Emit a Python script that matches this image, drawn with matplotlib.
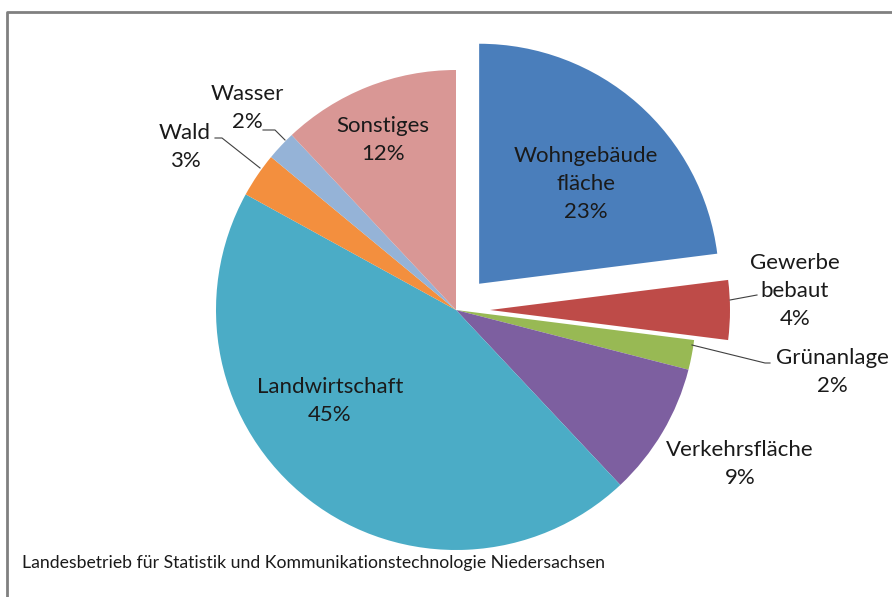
import matplotlib
matplotlib.use("Agg")
import matplotlib.pyplot as plt

categories = ["Wohngebäude\nfläche", "Gewerbe\nbebaut", "Grünanlage", "Verkehrsfläche",
              "Landwirtschaft", "Wald", "Wasser", "Sonstiges"]
values = [23, 4, 2, 9, 45, 3, 2, 12]
source = "Landesbetrieb für Statistik und Kommunikationstechnologie Niedersachsen"

colors = ["#4A7EBB", "#BE4B48", "#98B954", "#7D5FA0", "#4BACC6", "#F38F3E", "#95B3D7", "#D99795"]
explode_px = [35, 34, 0, 0, 0, 0, 0, 0]

W, H = 892, 597
fig = plt.figure(figsize=(W / 100, H / 100), dpi=100)
ax = fig.add_axes([0, 0, 1, 1])

def py(y):
    return H - y

cx, cy, r = 456, py(310), 240
wedges, _ = ax.pie(values, colors=colors, startangle=90, counterclock=False,
                   explode=explode_px, radius=r, center=(cx, cy), frame=True,
                   wedgeprops=dict(linewidth=0))
ax.set_xlim(0, W)
ax.set_ylim(0, H)
ax.set_aspect("equal")
ax.axis("off")

font = dict(family=["Lato", "DejaVu Sans"], color="#1a1a1a", fontsize=16)
pcts = [f"{v}%" for v in values]
# label positions (pixel coords, center of text block)
label_pos = [(586, 184), (795, 291), (832, 372), (740, 464),
             (330, 401), (185, 147), (247, 108), (383, 140)]
for lab, pct, (x, y) in zip(categories, pcts, label_pos):
    ax.text(x, py(y), lab + "\n" + pct, ha="center", va="center",
            linespacing=1.5, **font)

# leader lines
lc = dict(color="#404040", lw=0.8)
ax.plot([730, 757], [py(300), py(295)], **lc)
ax.plot([692, 765, 770], [py(345), py(363), py(363)], **lc)
ax.plot([285, 275, 263], [py(140), py(130), py(130)], **lc)
ax.plot([260, 222, 215], [py(168), py(138), py(138)], **lc)

ax.text(22, py(563), source, ha="left", va="center",
        family=["Lato", "DejaVu Sans"], fontsize=12.7, color="#1a1a1a")

# chart border
ax.plot([6.5, 6.5, W], [0, py(11.5), py(11.5)], color="#808080", lw=2, clip_on=False)

fig.savefig("out.png", dpi=100)
